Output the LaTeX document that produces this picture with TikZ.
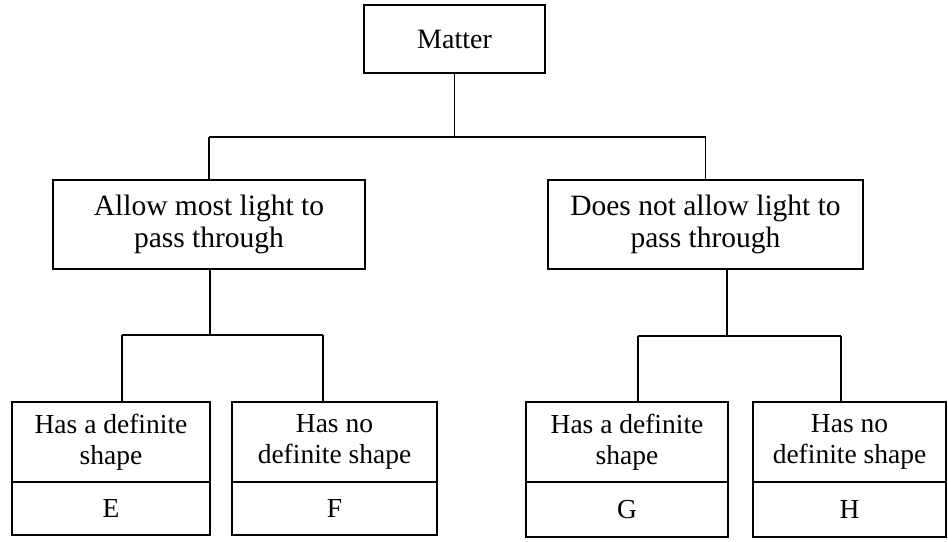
\documentclass[tikz,border=0pt]{standalone}
\usepackage{fontspec}
\setmainfont{Liberation Serif}
\begin{document}
\begin{tikzpicture}[x=1pt,y=-1pt,
  box/.style={draw, line width=1.5pt, inner sep=0pt, align=center},
  wire/.style={line width=1.5pt},
  midtext/.style={font=\fontsize{29.5}{32}\selectfont},
  lowtext/.style={font=\fontsize{27.5}{31}\selectfont}]
\useasboundingbox (0,0) rectangle (948,541);
\fill[white] (0,0) rectangle (948,541);
% top
\node[box, font=\fontsize{28}{31}\selectfont, minimum width=181pt, minimum height=68pt] (matter) at (454.5,39) {Matter};
% middle
\node[box, midtext, minimum width=312pt, minimum height=89pt] (allow) at (209,224.5) {Allow most light to\\pass through};
\node[box, midtext, minimum width=315pt, minimum height=89pt] (notallow) at (705.5,224.5) {Does not allow light to\\pass through};
% bottom left
\node[box, lowtext, minimum width=198pt, minimum height=80pt] (e) at (111,442) {Has a definite\\shape};
\node[box, lowtext, minimum width=198pt, minimum height=53pt] (eL) at (111,508.5) {E};
\node[box, lowtext, minimum width=205pt, minimum height=80pt] (f) at (334.5,442) {Has no\\definite shape};
\node[box, lowtext, minimum width=205pt, minimum height=53pt] (fL) at (334.5,508.5) {F};
% bottom right
\node[box, lowtext, minimum width=202pt, minimum height=80pt] (g) at (627,442) {Has a definite\\shape};
\node[box, lowtext, minimum width=202pt, minimum height=55pt] (gL) at (627,509.5) {G};
\node[box, lowtext, minimum width=193pt, minimum height=80pt] (h) at (849.5,442) {Has no\\definite shape};
\node[box, lowtext, minimum width=193pt, minimum height=55pt] (hL) at (849.5,509.5) {H};
% junctions
\coordinate (j0) at (454.5,137);
\coordinate (j0l) at (209,137);
\coordinate (j0r) at (705.5,137);
\coordinate (j1) at (210,335);
\coordinate (j1l) at (122,335);
\coordinate (j1r) at (323,335);
\coordinate (j2) at (727,336);
\coordinate (j2l) at (638,336);
\coordinate (j2r) at (841,336);
% connectors
\draw[wire] (matter.south) -- (j0);
\draw[wire] (j0l) -- (j0r);
\draw[wire] (j0l) -- (allow.north);
\draw[wire] (j0r) -- (notallow.north);
\draw[wire] (allow.south -| j1) -- (j1);
\draw[wire] (j1l) -- (j1r);
\draw[wire] (j1l) -- (e.north -| j1l);
\draw[wire] (j1r) -- (f.north -| j1r);
\draw[wire] (notallow.south -| j2) -- (j2);
\draw[wire] (j2l) -- (j2r);
\draw[wire] (j2l) -- (g.north -| j2l);
\draw[wire] (j2r) -- (h.north -| j2r);
\end{tikzpicture}
\end{document}
